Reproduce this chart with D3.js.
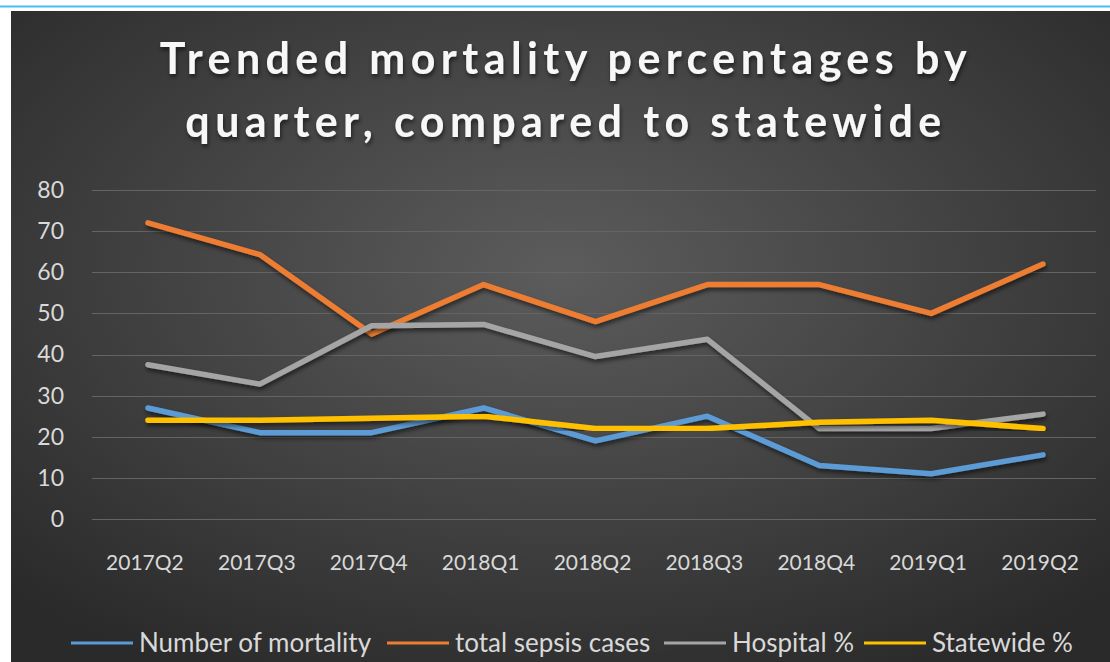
<!DOCTYPE html>
<html>
<head>
<meta charset="utf-8">
<script src="https://cdn.jsdelivr.net/npm/d3@7"></script>
<style>
  body { margin: 0; background: #fff; }
  svg text { font-family: Lato, "Open Sans", sans-serif; }
</style>
</head>
<body>
<div id="chart"></div>
<script>
const quarters = ['2017Q2', '2017Q3', '2017Q4', '2018Q1', '2018Q2', '2018Q3', '2018Q4', '2019Q1', '2019Q2']
const mortality = [27, 21, 21, 27, 19, 25, 13, 11, 15.6]
const sepsisCases = [72, 64.3, 45, 57, 48, 57, 57, 50, 62]
const hospitalPct = [37.5, 32.8, 47, 47.3, 39.5, 43.7, 22, 22, 25.5]
const statewidePct = [24, 24, 24.5, 25, 22, 22, 23.5, 24, 22]
const yTicks = [0, 10, 20, 30, 40, 50, 60, 70, 80]
const titleLines = ['Trended mortality percentages by', 'quarter, compared to statewide']

const series = [
  {name: 'Number of mortality', values: mortality, color: '#5B9BD5'},
  {name: 'total sepsis cases', values: sepsisCases, color: '#ED7D31'},
  {name: 'Hospital %', values: hospitalPct, color: '#A5A5A5'},
  {name: 'Statewide %', values: statewidePct, color: '#FFC000'}
]

const width = 1110,
      height = 662

const svg = d3.select('#chart')
  .append('svg')
  .attr('width', width)
  .attr('height', height)

const defs = svg.append('defs')
const grad = defs.append('radialGradient')
  .attr('id', 'bg')
  .attr('cx', '50%').attr('cy', '40%').attr('r', '70%')
grad.append('stop').attr('offset', '0%').attr('stop-color', '#5c5c5c')
grad.append('stop').attr('offset', '100%').attr('stop-color', '#2a2a2a')

const shadow = defs.append('filter').attr('id', 'shadow')
  .attr('x', '-5%').attr('y', '-10%').attr('width', '110%').attr('height', '130%')
shadow.append('feDropShadow')
  .attr('dx', 1).attr('dy', 3).attr('stdDeviation', 2)
  .attr('flood-color', '#000').attr('flood-opacity', 0.55)

// top rule and chart panel
svg.append('line')
  .attr('x1', 0).attr('x2', width).attr('y1', 6.5).attr('y2', 6.5)
  .attr('stroke', '#45bdf5').attr('stroke-width', 2)

svg.append('rect')
  .attr('x', 11).attr('y', 11)
  .attr('width', width - 11).attr('height', height - 11)
  .attr('fill', 'url(#bg)')

svg.append('g')
  .selectAll('text')
  .data(titleLines)
  .enter().append('text')
  .attr('x', 566)
  .attr('y', function(d, i) { return 74 + i * 63 })
  .attr('text-anchor', 'middle')
  .attr('fill', '#f7f7f7')
  .style('font-size', '43px')
  .style('font-weight', 'bold')
  .style('letter-spacing', '5.4px')
  .attr('filter', 'url(#shadow)')
  .text(function(d) { return d })

const x = d3.scaleBand()
  .domain(quarters)
  .range([92, 1099])

const y = d3.scaleLinear()
  .domain([0, 80])
  .range([519, 190])

// gridlines
svg.append('g')
  .selectAll('line')
  .data(yTicks)
  .enter().append('line')
  .attr('x1', 92).attr('x2', 1096)
  .attr('y1', function(d) { return Math.round(y(d)) + 0.5 })
  .attr('y2', function(d) { return Math.round(y(d)) + 0.5 })
  .attr('stroke', '#646464')
  .attr('stroke-width', 1)

const yAxis = svg.append('g')
  .attr('transform', 'translate(64,0)')
  .call(d3.axisLeft(y).tickValues(yTicks).tickSize(0).tickPadding(0))
yAxis.select('.domain').remove()
yAxis.selectAll('text')
  .attr('fill', '#d9d9d9')
  .style('font-size', '23px')

const xAxis = svg.append('g')
  .attr('transform', 'translate(-3,555)')
  .call(d3.axisBottom(x).tickSize(0).tickPadding(0))
xAxis.select('.domain').remove()
xAxis.selectAll('text')
  .attr('fill', '#d9d9d9')
  .style('font-size', '21px')

const line = d3.line()
  .x(function(d, i) { return x(quarters[i]) + x.bandwidth() / 2 })
  .y(function(d) { return y(d) })

svg.append('g')
  .selectAll('path')
  .data(series)
  .enter().append('path')
  .attr('d', function(d) { return line(d.values) })
  .attr('fill', 'none')
  .attr('stroke', function(d) { return d.color })
  .attr('stroke-width', 5.5)
  .attr('stroke-linecap', 'round')
  .attr('stroke-linejoin', 'round')
  .attr('filter', 'url(#shadow)')

// legend
const legendX = [71, 387, 664, 864]
const legend = svg.append('g')
  .selectAll('g')
  .data(series)
  .enter().append('g')
  .attr('transform', function(d, i) { return 'translate(' + legendX[i] + ',643)' })

legend.append('line')
  .attr('x1', 0).attr('x2', 62)
  .attr('stroke', function(d) { return d.color })
  .attr('stroke-width', 3)

legend.append('text')
  .attr('x', 68)
  .attr('dy', '0.35em')
  .attr('fill', '#d9d9d9')
  .style('font-size', '26px')
  .text(function(d) { return d.name })
</script>
</body>
</html>
